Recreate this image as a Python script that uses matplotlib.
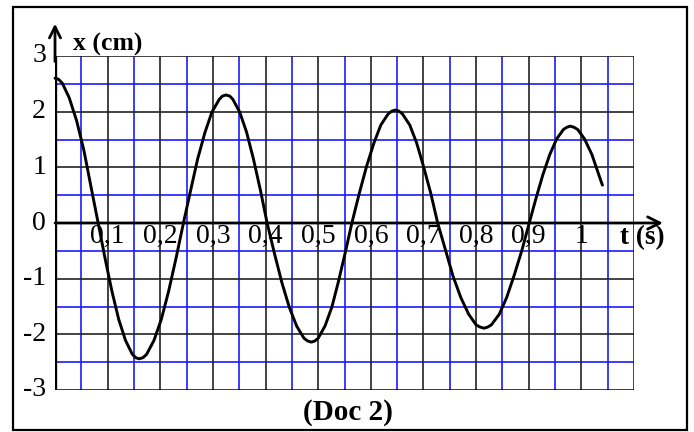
import matplotlib
matplotlib.use("Agg")
import matplotlib.pyplot as plt
from matplotlib.patches import Rectangle

# ---- data ----
t_s = [0.000, 0.007, 0.014, 0.027, 0.041, 0.055, 0.068, 0.082,
       0.095, 0.108, 0.121, 0.134, 0.147, 0.1535, 0.160, 0.167,
       0.174, 0.188, 0.202, 0.216, 0.230, 0.244,
       0.258, 0.271, 0.285, 0.298, 0.312, 0.318, 0.325, 0.332,
       0.338, 0.351, 0.364, 0.377, 0.390, 0.403,
       0.417, 0.431, 0.445, 0.459, 0.473, 0.480, 0.487, 0.4935,
       0.500, 0.513, 0.526, 0.538, 0.551, 0.564,
       0.578, 0.592, 0.606, 0.619, 0.633, 0.640, 0.647, 0.6535,
       0.660, 0.674, 0.687, 0.700, 0.714, 0.727,
       0.742, 0.756, 0.771, 0.786, 0.800, 0.8077, 0.815, 0.822,
       0.829, 0.844, 0.858, 0.872, 0.887, 0.901,
       0.914, 0.927, 0.940, 0.953, 0.966, 0.9725, 0.979, 0.9858,
       0.993, 1.006, 1.020, 1.033, 1.040]
x_cm = [2.60, 2.58, 2.51, 2.25, 1.84, 1.30, 0.67, 0.00,
        -0.63, -1.22, -1.73, -2.11, -2.36, -2.42, -2.44, -2.42,
        -2.36, -2.11, -1.73, -1.22, -0.63, 0.00,
        0.60, 1.15, 1.63, 1.99, 2.22, 2.28, 2.30, 2.28,
        2.22, 1.99, 1.63, 1.15, 0.60, 0.00,
        -0.55, -1.07, -1.51, -1.85, -2.07, -2.12, -2.14, -2.12,
        -2.07, -1.85, -1.51, -1.07, -0.55, 0.00,
        0.53, 1.02, 1.44, 1.76, 1.96, 2.01, 2.03, 2.01,
        1.96, 1.76, 1.44, 1.02, 0.53, 0.00,
        -0.49, -0.95, -1.34, -1.64, -1.83, -1.87, -1.89, -1.87,
        -1.83, -1.64, -1.34, -0.95, -0.49, 0.00,
        0.45, 0.87, 1.23, 1.51, 1.68, 1.72, 1.74, 1.72,
        1.68, 1.51, 1.23, 0.87, 0.68]

x_tick_vals = [0.1, 0.2, 0.3, 0.4, 0.5, 0.6, 0.7, 0.8, 0.9, 1.0]
x_tick_labels = ["0,1", "0,2", "0,3", "0,4", "0,5", "0,6", "0,7", "0,8", "0,9", "1"]
y_tick_vals = [3, 2, 1, 0, -1, -2, -3]
y_tick_labels = ["3", "2", "1", "0", "-1", "-2", "-3"]
black_t = [0.1 * i for i in range(1, 12)]
blue_t = [0.05 + 0.1 * i for i in range(11)]
black_x = [-2, -1, 1, 2, 3]
blue_x = [-2.5, -1.5, -0.5, 0.5, 1.5, 2.5]

T_MAX, X_MIN, X_MAX = 1.1, -3, 3

plt.rcParams['font.family'] = ['Liberation Serif', 'DejaVu Serif']

W, H = 694, 432
fig = plt.figure(figsize=(W / 100, H / 100), dpi=100)
fig.patch.set_facecolor("white")

# outer frame
fig.add_artist(Rectangle((13 / W, 2 / H), (687 - 13) / W, (425 - 2) / H,
                         transform=fig.transFigure, fill=False,
                         edgecolor="black", linewidth=1.6))

L, R, TOP, BOT = 55, 634, 56, 390
ax = fig.add_axes([L / W, (H - BOT) / H, (R - L) / W, (BOT - TOP) / H])
ax.set_xlim(0, T_MAX)
ax.set_ylim(X_MIN, X_MAX)
ax.set_axis_off()

blue = "#1a1aff"
for v in blue_t:
    ax.axvline(v, color=blue, lw=1.2, zorder=1)
for v in blue_x:
    ax.axhline(v, color=blue, lw=1.2, zorder=1)
for v in black_t:
    ax.axvline(v, color="#222222", lw=1.2, zorder=2)
for v in black_x:
    ax.axhline(v, color="#222222", lw=1.2, zorder=2)
ax.axhline(X_MIN, color="black", lw=1.8, zorder=2)
ax.axvline(0, color="black", lw=2.4, zorder=3)

# axes with arrows
ax.annotate("", xy=(1.155, 0), xytext=(0, 0),
            arrowprops=dict(arrowstyle="->", lw=2.0, color="black",
                            mutation_scale=22, shrinkA=0, shrinkB=0),
            annotation_clip=False, zorder=4)
ax.annotate("", xy=(0, 3.58), xytext=(0, 2.9),
            arrowprops=dict(arrowstyle="->", lw=2.0, color="black",
                            mutation_scale=20, shrinkA=0, shrinkB=0),
            annotation_clip=False, zorder=4)

# tick labels
for v, s in zip(x_tick_vals, x_tick_labels):
    ax.text(v, -0.02, s, ha="center", va="top", fontsize=20, zorder=3)
for v, s in zip(y_tick_vals, y_tick_labels):
    ax.text(-0.017, v, s, ha="right", va="center", fontsize=20,
            clip_on=False, zorder=3)

ax.text(1.073, -0.27, "t (s)", ha="left", va="center", fontsize=19.5,
        fontweight="bold", clip_on=False, zorder=3)
ax.text(0.034, 3.09, "x (cm)", ha="left", va="baseline", fontsize=18.5,
        fontweight="bold", clip_on=False, zorder=3)

ax.plot(t_s, x_cm, color="black", lw=2.1, solid_joinstyle="round",
        solid_capstyle="round", zorder=5, clip_on=False)

fig.text(348 / W, (H - 413) / H, "(Doc 2)", ha="center", va="center",
         fontsize=21, fontweight="bold")

fig.savefig("out.png", dpi=100, facecolor="white")
